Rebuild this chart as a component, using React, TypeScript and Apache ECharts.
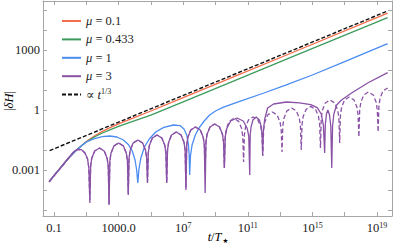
import React, { useEffect, useRef } from "react";
import * as echarts from "echarts";

// All values are log10 exponents: [log10(t/T*), log10|δH|]
const xTickExps = [-1, 1, 3, 5, 7, 9, 11, 13, 15, 17, 19];
const xLabelExps = [-1, 3, 7, 11, 15, 19];
const yTickExps = [-5, -4, -3, -2, -1, 0, 1, 2, 3, 4, 5];
const yLabelExps = [-3, 0, 3];
const xLabelText: Record<string, string> = { "-1": "0.1", "3": "1000.0" };
const yLabelText: Record<string, string> = { "-3": "0.001", "0": "1", "3": "1000" };

const refLine = [[-1.27, -2.03], [19.66, 4.95]];

const mu01 = [
  [-1.3, -3.58], [-0.9, -3.18], [-0.5, -2.79], [-0.1, -2.42], [0.3, -2.08], [0.65, -1.82], [1.0, -1.58],
  [1.5, -1.3], [2.0, -1.07], [2.5, -0.87], [3.0, -0.69], [3.7, -0.47], [5, -0.05], [7, 0.62], [10, 1.62],
  [14, 2.95], [19.66, 4.84],
];

const mu0433 = [
  [-1.3, -3.58], [-0.9, -3.18], [-0.5, -2.79], [-0.1, -2.42], [0.3, -2.08], [0.65, -1.82], [1.0, -1.6],
  [1.5, -1.35], [2.0, -1.15], [2.5, -0.98], [3.0, -0.82], [3.7, -0.62], [5, -0.26], [7, 0.41], [10, 1.41],
  [14, 2.74], [19.66, 4.62],
];

const mu1 = [
  [-1.3, -3.58], [-0.9, -3.18], [-0.5, -2.79], [-0.1, -2.42], [0.3, -2.08], [0.65, -1.82], [1.0, -1.6],
  [1.5, -1.43], [2.0, -1.33], [2.45, -1.3], [2.9, -1.35], [3.3, -1.5], [3.6, -1.72], [3.85, -2.05],
  [4.02, -2.5], [4.12, -3.0], [4.19, -3.65], [4.26, -2.95], [4.38, -2.4], [4.6, -1.85], [4.9, -1.45],
  [5.3, -1.1], [5.8, -0.87], [6.4, -0.75], [6.8, -0.78], [7.05, -0.95], [7.22, -1.25], [7.32, -1.7],
  [7.37, -2.2], [7.4, -3.25], [7.45, -2.3], [7.55, -1.75], [7.75, -1.25], [8.0, -0.88], [8.3, -0.55],
  [8.64, -0.25], [9.0, -0.05], [9.5, 0.14], [10.5, 0.43], [12, 0.85], [13.3, 1.23], [15, 1.75],
  [17, 2.42], [19.66, 3.32],
];

const mu3 = [
  [-1.3, -3.58], [-0.9, -3.18], [-0.5, -2.8], [-0.2, -2.5], [0.05, -2.25], [0.25, -2.07], [0.45, -1.97],
  [0.7, -1.98], [0.92, -2.15], [1.08, -2.45], [1.16, -2.9], [1.22, -4.65],
  [1.27, -2.8], [1.34, -2.41], [1.52, -2.05], [1.82, -1.9], [2.11, -2.05], [2.29, -2.41], [2.36, -2.8], [2.41, -4.75],
  [2.46, -2.55], [2.53, -2.16], [2.71, -1.8], [3.0, -1.65], [3.3, -1.8], [3.48, -2.16], [3.55, -2.55], [3.6, -4.25],
  [3.65, -2.4], [3.72, -2.01], [3.9, -1.65], [4.2, -1.5], [4.49, -1.65], [4.67, -2.01], [4.74, -2.4], [4.79, -3.65],
  [4.84, -2.15], [4.91, -1.76], [5.09, -1.4], [5.38, -1.25], [5.68, -1.4], [5.86, -1.76], [5.93, -2.15], [5.98, -3.65],
  [6.03, -2.0], [6.1, -1.61], [6.28, -1.25], [6.57, -1.1], [6.87, -1.25], [7.05, -1.61], [7.12, -2.0], [7.17, -4.0],
  [7.22, -1.75], [7.29, -1.36], [7.47, -1.0], [7.76, -0.85], [8.06, -1.0], [8.24, -1.36], [8.31, -1.75], [8.36, -4.15],
  [8.41, -1.6], [8.48, -1.21], [8.66, -0.85], [8.95, -0.7], [9.25, -0.85], [9.43, -1.21], [9.5, -1.6], [9.55, -2.9],
  [9.61, -1.3], [9.71, -0.91], [9.94, -0.55], [10.33, -0.4], [10.72, -0.55], [10.96, -0.91], [11.06, -1.3], [11.12, -3.25],
  [11.15, -1.25], [11.2, -0.86], [11.32, -0.5], [11.52, -0.35], [11.72, -0.5], [11.84, -0.86], [11.89, -1.25], [11.92, -2.25],
  [11.97, -1.0], [12.05, -0.45], [12.23, 0.1], [12.6, 0.3], [13.4, 0.4], [14.2, 0.36], [14.9, 0.27], [15.3, 0.12],
  [15.55, -0.2], [15.68, -0.75], [15.76, -2.15],
  [15.8, -0.75], [15.87, -0.2], [15.96, 0.0], [16.06, -0.25], [16.14, -0.8], [16.2, -2.9],
  [16.25, -0.8], [16.33, -0.2], [16.5, 0.25], [16.8, 0.5], [17.43, 0.85], [18.42, 1.35], [19.66, 1.87],
];

const mu3alt = [
  [-1.3, -3.6], [-0.9, -3.2], [-0.5, -2.82], [-0.2, -2.5], [0.05, -2.25], [0.25, -2.07], [0.45, -1.97],
  [0.7, -1.98], [0.92, -2.15], [1.08, -2.45], [1.16, -2.9], [1.22, -4.5],
  [1.27, -2.8], [1.34, -2.41], [1.52, -2.05], [1.82, -1.9], [2.11, -2.05], [2.29, -2.41], [2.36, -2.8], [2.41, -4.7],
  [2.46, -2.55], [2.53, -2.16], [2.71, -1.8], [3.0, -1.65], [3.3, -1.8], [3.48, -2.16], [3.55, -2.55], [3.6, -4.2],
  [3.65, -2.4], [3.72, -2.01], [3.9, -1.65], [4.2, -1.5], [4.49, -1.65], [4.67, -2.01], [4.74, -2.4], [4.79, -3.6],
  [4.84, -2.15], [4.91, -1.76], [5.09, -1.4], [5.38, -1.25], [5.68, -1.4], [5.86, -1.76], [5.93, -2.15], [5.98, -3.65],
  [6.03, -2.0], [6.1, -1.61], [6.28, -1.25], [6.57, -1.1], [6.87, -1.25], [7.05, -1.61], [7.12, -2.0], [7.17, -3.9],
  [7.22, -1.75], [7.29, -1.36], [7.47, -1.0], [7.76, -0.85], [8.06, -1.0], [8.24, -1.36], [8.31, -1.75], [8.36, -3.1],
  [8.41, -1.6], [8.48, -1.21], [8.66, -0.85], [8.95, -0.7], [9.25, -0.85], [9.43, -1.21], [9.5, -1.6], [9.55, -2.9],
  [9.6, -1.32], [9.67, -0.93], [9.85, -0.57], [10.14, -0.42], [10.44, -0.57], [10.62, -0.93], [10.69, -1.32], [10.74, -2.6],
  [10.79, -1.25], [10.86, -0.86], [11.04, -0.5], [11.33, -0.35], [11.63, -0.5], [11.81, -0.86], [11.88, -1.25], [11.93, -2.3],
  [11.98, -1.0], [12.05, -0.61], [12.23, -0.25], [12.52, -0.1], [12.82, -0.25], [13.0, -0.61], [13.07, -1.0], [13.12, -2.1],
  [13.17, -0.8], [13.24, -0.41], [13.42, -0.05], [13.71, 0.1], [14.01, -0.05], [14.19, -0.41], [14.26, -0.8], [14.31, -2.0],
  [14.36, -0.72], [14.43, -0.33], [14.61, 0.03], [14.9, 0.18], [15.2, 0.03], [15.38, -0.33], [15.45, -0.72], [15.5, -1.9],
  [15.55, -0.4], [15.62, -0.01], [15.8, 0.35], [16.09, 0.5], [16.39, 0.35], [16.57, -0.01], [16.64, -0.4], [16.69, -1.65],
  [16.74, -0.25], [16.81, 0.14], [16.99, 0.5], [17.28, 0.65], [17.58, 0.5], [17.76, 0.14], [17.83, -0.25], [17.88, -1.35],
  [17.93, 0.0], [18.0, 0.39], [18.18, 0.75], [18.47, 0.9], [18.77, 0.75], [18.95, 0.39], [19.02, 0.0], [19.07, -1.1],
  [19.12, 0.2], [19.19, 0.59], [19.37, 0.95], [19.66, 1.1],
];

const legendLabels: Record<string, string> = {
  mu01: "{i|μ}{n| = 0.1}",
  mu0433: "{i|μ}{n| = 0.433}",
  mu1: "{i|μ}{n| = 1}",
  mu3: "{i|μ}{n| = 3}",
  ref: "{n|∝ }{i|t}{s|1/3}",
};

const SERIF = "'Liberation Serif', 'DejaVu Serif', serif";
const C_ORANGE = "#f56d4a";
const C_GREEN = "#3d9b5e";
const C_BLUE = "#4a8cf2";
const C_PURPLE = "#8a52a6";
const FRAME = "#a6a6a6";

const richBase = {
  n: { fontFamily: SERIF, fontSize: 12.5, color: "#222", lineHeight: 14 },
  i: { fontFamily: SERIF, fontSize: 12.5, fontStyle: "italic", color: "#222", lineHeight: 14 },
  b: { fontFamily: SERIF, fontSize: 12.5, color: "#222", lineHeight: 14 },
  s: { fontFamily: SERIF, fontSize: 8, color: "#222", lineHeight: 9, verticalAlign: "top" },
  sub: { fontFamily: "'DejaVu Sans', sans-serif", fontSize: 6.5, color: "#222", lineHeight: 8, verticalAlign: "bottom", padding: [0, 0, 0, 1] },
};

export default function App() {
  const ref = useRef<HTMLDivElement>(null);
  useEffect(() => {
    if (!ref.current) return;
    const chart = echarts.init(ref.current, null, { renderer: "svg" });
    const line = (name: string, data: number[][], color: string, dashed?: number[], width = 1.3, z = 2) => ({
      name,
      type: "line",
      data,
      symbol: "none",
      clip: true,
      z,
      lineStyle: { color, width, type: dashed ? dashed : "solid" },
      itemStyle: { color },
      emphasis: { disabled: true },
    });
    const xFmt = (v: number) => {
      const k = String(Math.round(v));
      return xLabelText[k] ?? `{b|10}{s|${k}}`;
    };
    const yFmt = (v: number) => yLabelText[String(Math.round(v))] ?? "";
    const axisCommon = {
      type: "value",
      axisLine: { show: true, onZero: false, lineStyle: { color: FRAME, width: 1 } },
      splitLine: { show: false },
    };
    chart.setOption({
      animation: false,
      backgroundColor: "#fff",
      grid: { left: 43, right: 3, top: 1, bottom: 31, containLabel: false },
      xAxis: [
        {
          ...axisCommon,
          position: "bottom",
          min: -1.68,
          max: 19.93,
          axisTick: { show: true, inside: true, length: 4, customValues: xTickExps, lineStyle: { color: FRAME } },
          axisLabel: { show: true, customValues: xLabelExps, formatter: xFmt, margin: 5, rich: richBase, fontFamily: SERIF, fontSize: 12.5, color: "#222" },
        },
        {
          ...axisCommon,
          position: "top",
          min: -1.68,
          max: 19.93,
          axisTick: { show: true, inside: true, length: 4, customValues: xTickExps, lineStyle: { color: FRAME } },
          axisLabel: { show: false },
        },
      ],
      yAxis: [
        {
          ...axisCommon,
          position: "left",
          min: -5.3,
          max: 5.45,
          axisTick: { show: true, inside: true, length: 4, customValues: yTickExps, lineStyle: { color: FRAME } },
          axisLabel: { show: true, customValues: yLabelExps, formatter: yFmt, margin: 3, fontFamily: SERIF, fontSize: 12.5, color: "#222" },
        },
        {
          ...axisCommon,
          position: "right",
          min: -5.3,
          max: 5.45,
          axisTick: { show: true, inside: true, length: 4, customValues: yTickExps, lineStyle: { color: FRAME } },
          axisLabel: { show: false },
        },
      ],
      legend: {
        show: true,
        orient: "vertical",
        left: 56,
        top: 9,
        itemWidth: 19,
        itemHeight: 10,
        itemGap: 4.4,
        itemStyle: { opacity: 0 },
        data: ["mu01", "mu0433", "mu1", "mu3", "ref"],
        formatter: (name: string) => legendLabels[name] ?? name,
        textStyle: { fontFamily: SERIF, fontSize: 12.5, color: "#222", lineHeight: 14, rich: richBase },
        selectedMode: false,
      },
      series: [
        line("mu01", mu01, C_ORANGE),
        line("mu0433", mu0433, C_GREEN),
        line("mu1", mu1, C_BLUE),
        line("mu3", mu3, C_PURPLE),
        line("mu3alt", mu3alt, C_PURPLE, [4.5, 2.5]),
        line("ref", refLine, "#111", [4, 2], 1.4, 3),
      ],
      graphic: [
        {
          type: "text",
          x: 9,
          y: 101,
          rotation: Math.PI / 2,
          style: {
            text: "{n||}{i|δH}{n||}",
            rich: richBase,
            align: "center",
            verticalAlign: "middle",
          },
        },
        {
          type: "text",
          x: 218,
          y: 237,
          style: {
            text: "{i|t}{n|/}{i|T}{sub|★}",
            rich: richBase,
            align: "center",
            verticalAlign: "middle",
          },
        },
      ],
    });
    return () => chart.dispose();
  }, []);
  return <div ref={ref} style={{ width: 395, height: 247, position: "absolute", left: 0, top: 0 }} />;
}
